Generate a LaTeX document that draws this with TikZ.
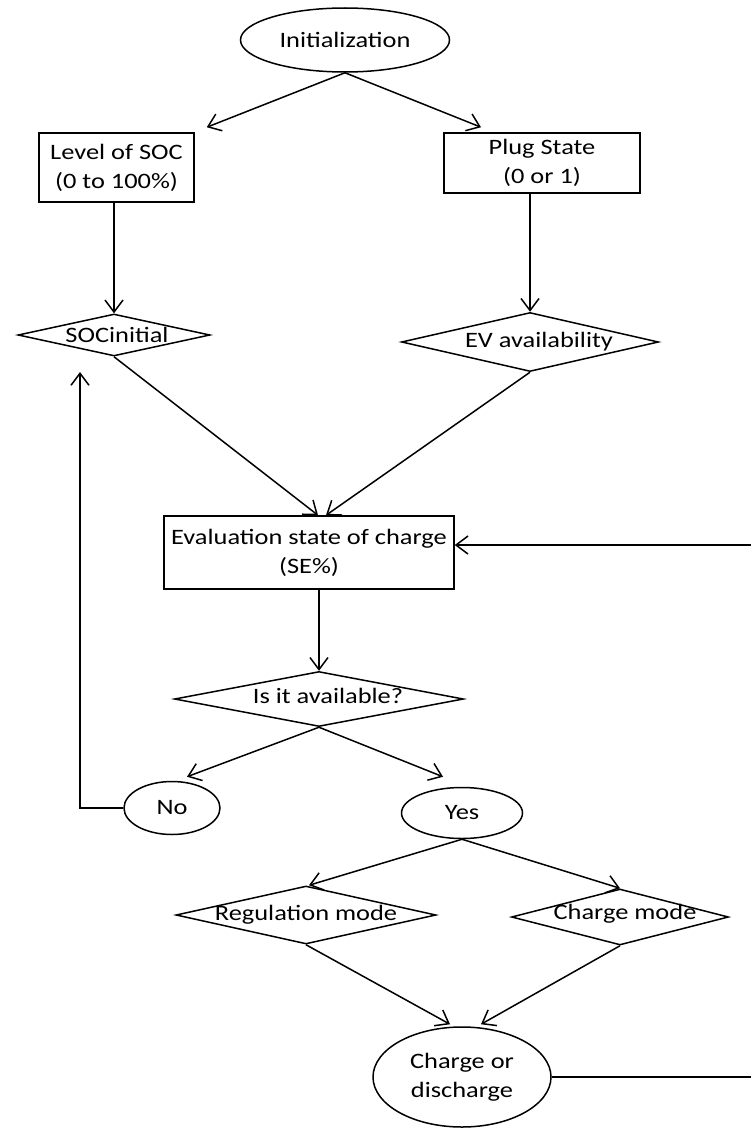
\documentclass[tikz,border=0pt]{standalone}
\usepackage{fontspec}
\setmainfont{Carlito}[FakeStretch=1.2]
\usetikzlibrary{shapes.geometric,arrows.meta}

\tikzset{
  every node/.style={font=\fontsize{22}{29}\selectfont, inner sep=0pt, line width=1.5pt},
  boxnode/.style={draw, rectangle, align=center},
  ovalnode/.style={draw, ellipse, align=center},
  dianode/.style={draw, diamond},
  flow/.style={draw, line width=1.5pt, -{Straight Barb[length=12pt,width=18pt]}},
}

\begin{document}
\begin{tikzpicture}[x=1pt, y=-1pt]
  \useasboundingbox (0,0) rectangle (751,1129);

  % start
  \node[ovalnode, minimum width=209pt, minimum height=64pt] (init) at (345,40) {Initialization};

  % inputs
  \node[boxnode, minimum width=155pt, minimum height=69pt] (lvl) at (116.5,167.5) {Level of SOC\\(0 to 100\%)};
  \node[boxnode, minimum width=196pt, minimum height=60pt] (plug) at (542,163) {Plug State\\(0 or 1)};

  \node[dianode, minimum width=192pt, minimum height=42pt,
        label={[xshift=3pt]center:SOCinitial}] (soc) at (114,335) {};
  \node[dianode, minimum width=257pt, minimum height=59pt,
        label={[xshift=9pt]center:EV availability}] (ev) at (530,342) {};

  % evaluation
  \node[boxnode, minimum width=290pt, minimum height=73pt] (eval) at (309,552.5) {Evaluation state of charge\\(SE\%)};

  \node[dianode, minimum width=289pt, minimum height=55pt,
        label={[xshift=9pt,yshift=3pt]center:Is it available?}] (avail) at (319,699) {};

  \node[ovalnode, minimum width=96pt, minimum height=53pt] (no) at (172,808) {No};
  \node[ovalnode, minimum width=121pt, minimum height=51pt] (yes) at (462,813) {Yes};

  % modes
  \node[dianode, minimum width=260pt, minimum height=58pt,
        label={center:Regulation mode}] (reg) at (306,915) {};
  \node[dianode, minimum width=217pt, minimum height=56pt,
        label={[xshift=5pt,yshift=3pt]center:Charge mode}] (chg) at (620,917) {};

  \node[ovalnode, minimum width=178pt, minimum height=100pt] (cd) at (462,1077) {Charge or\\discharge};

  % free end of the return path and the right-hand turning point
  \coordinate (back) at (80,372);
  \coordinate (turn) at (754,545);

  % connectors
  \draw[flow] (init.south) -- ([shift={(12,-5)}]lvl.north east);
  \draw[flow] (init.south) -- ([shift={(-61,-5)}]plug.north);
  \draw[flow] (soc.north |- lvl.south) -- (soc.north);
  \draw[flow] (ev.north |- plug.south) -- (ev.north);
  \draw[flow] (soc.south) -- ([xshift=9pt]eval.north);
  \draw[flow] (ev.south) -- ([xshift=17pt]eval.north);
  \draw[flow] (avail.north |- eval.south) -- (avail.north);
  \draw[flow] (avail.south) -- ([shift={(15,-4)}]no.north);
  \draw[flow] (avail.south) -- ([shift={(-19,-10)}]yes.north);
  \draw[flow] (no.west) -| (back);
  \draw[flow] (yes.south) -- ([xshift=3pt]reg.north);
  \draw[flow] (yes.south) -- (chg.north);
  \draw[flow] (reg.south) -- ([shift={(-12,-2)}]cd.north);
  \draw[flow] (chg.south) -- ([shift={(19,-2)}]cd.north);
  \draw[flow] (cd.east) -| (turn) -- (eval.east |- turn);
\end{tikzpicture}
\end{document}
